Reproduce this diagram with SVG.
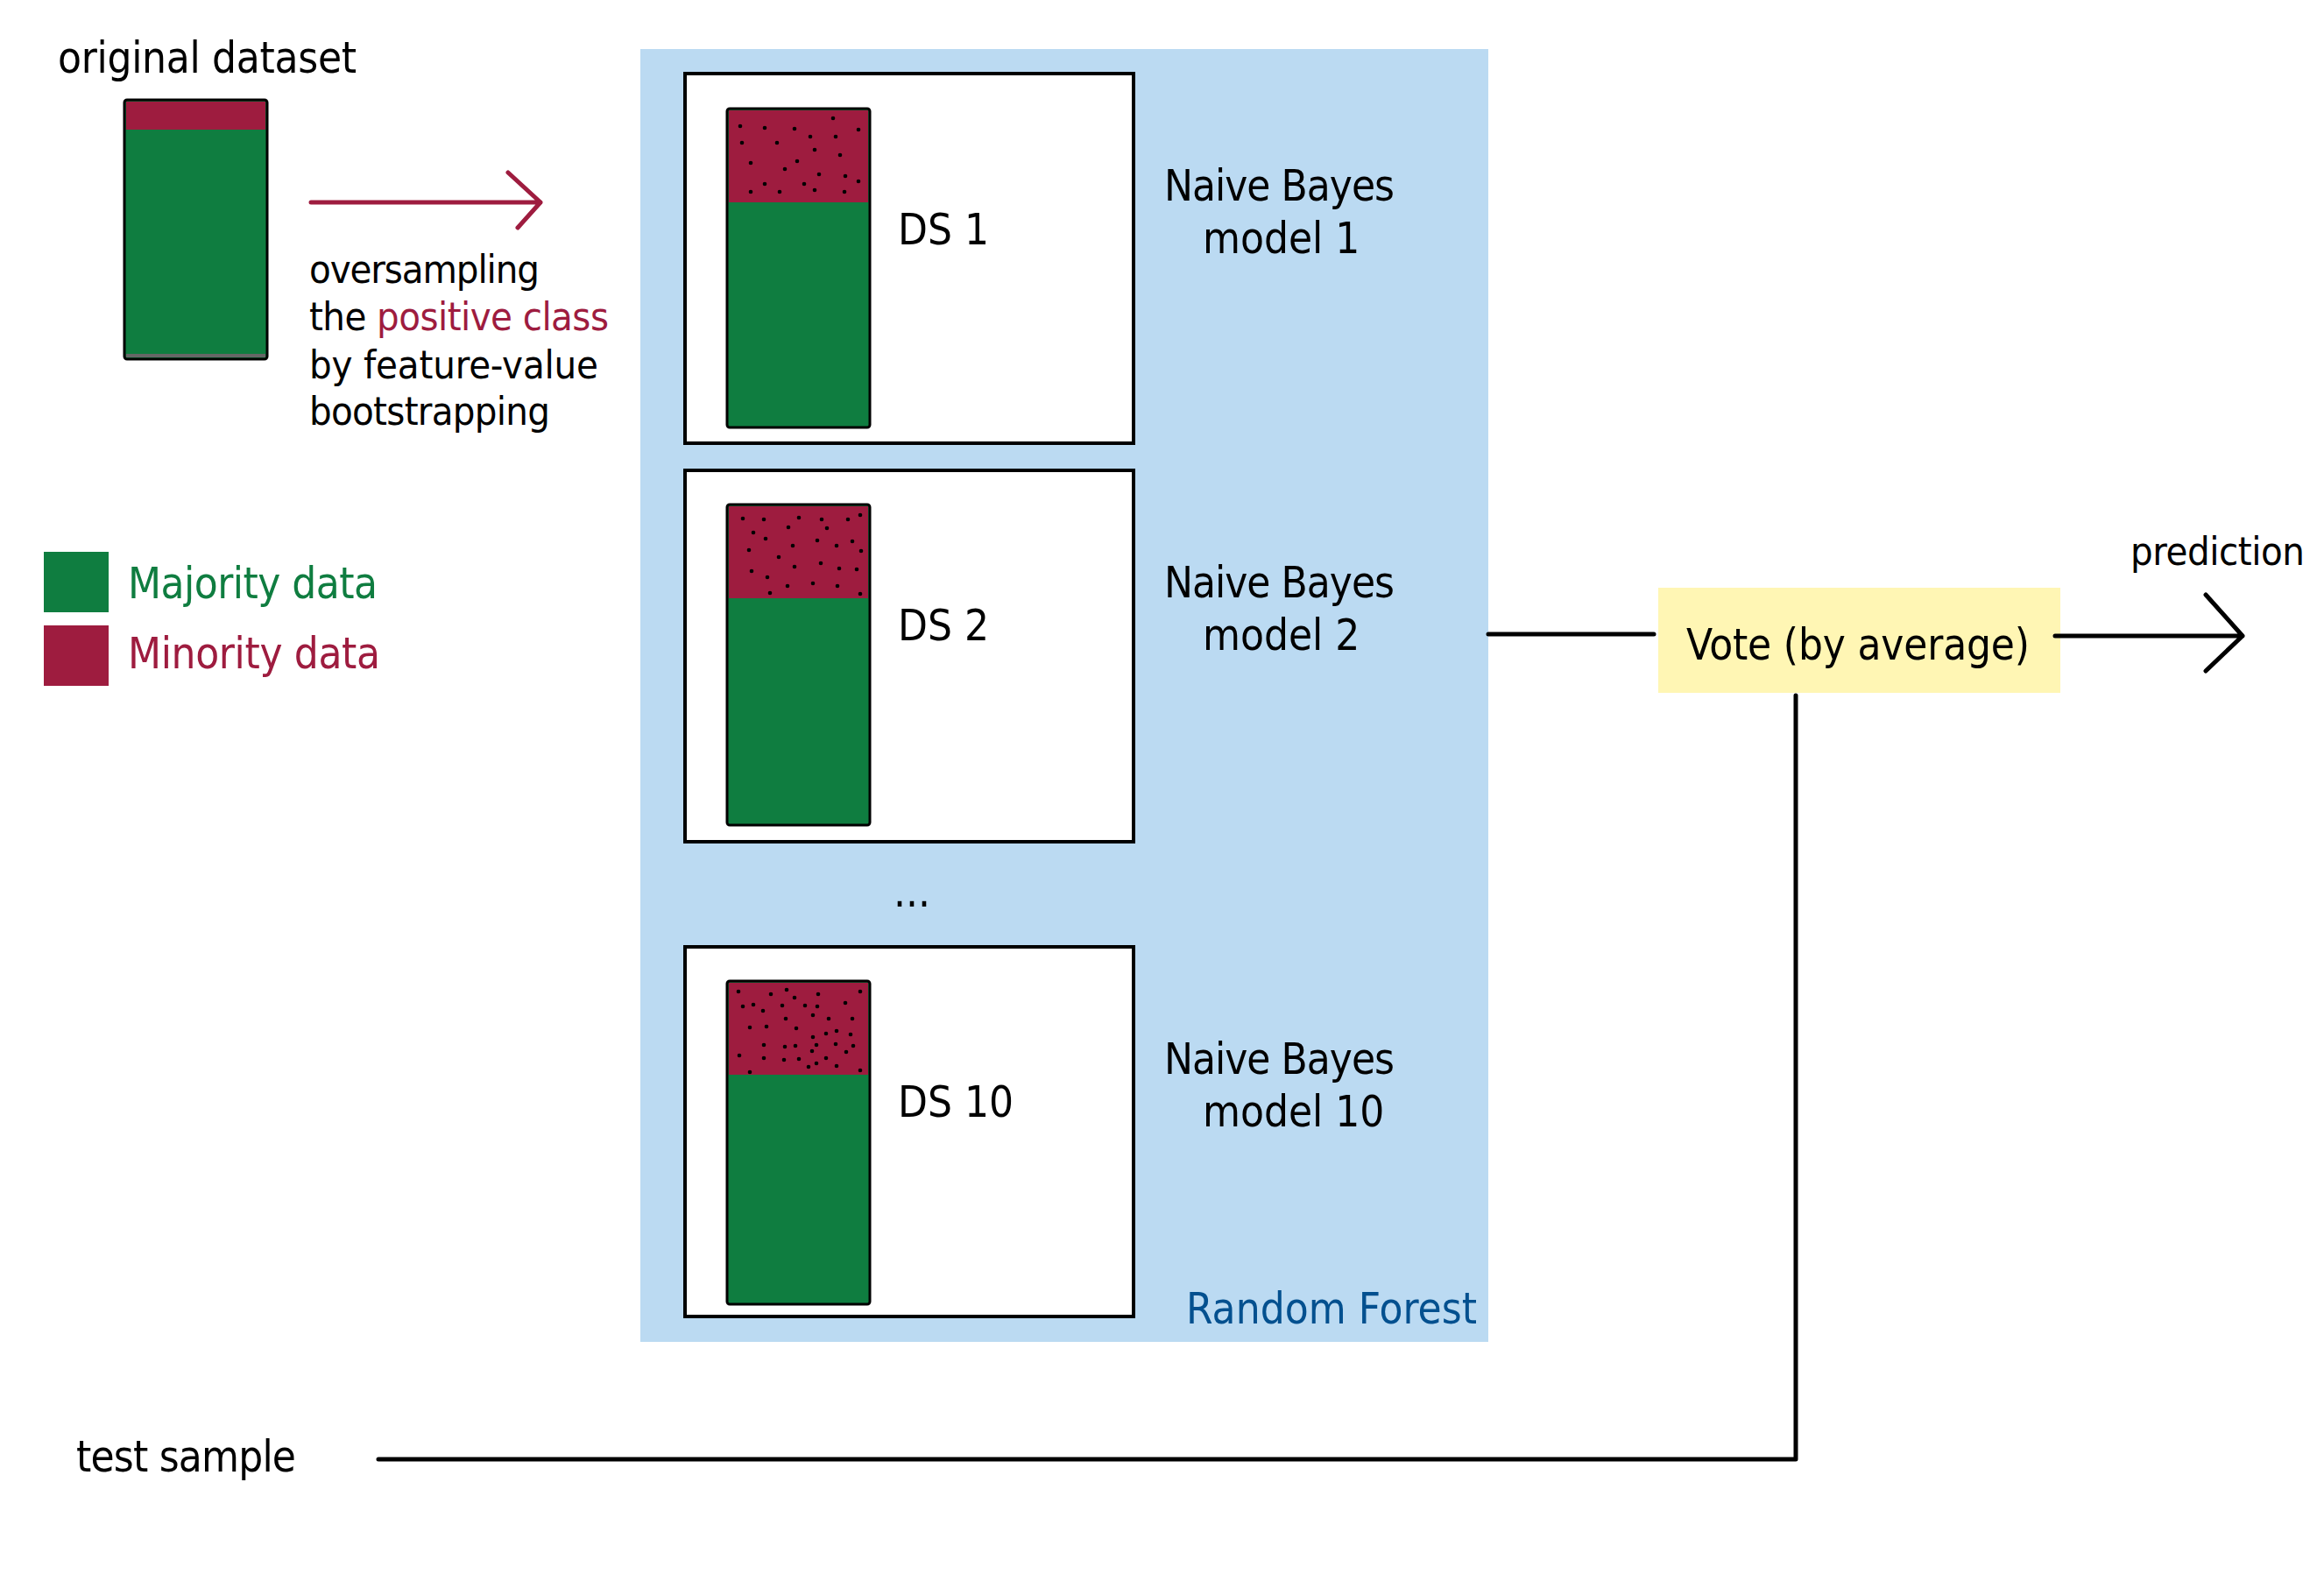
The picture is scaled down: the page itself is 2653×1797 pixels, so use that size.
<svg xmlns="http://www.w3.org/2000/svg" width="2653" height="1797" viewBox="0 0 2653 1797">
<style>
text{font-family:"DejaVu Sans Condensed","DejaVu Sans","Liberation Sans",sans-serif;font-stretch:condensed;fill:#000}
.lg{font-size:49px}
.md{font-size:45px}
.box{fill:#fff;stroke:#000;stroke-width:4}
.col{stroke:#000;stroke-width:3}
.maj{fill:#0F7D40}
.min{fill:#9E1C3F}
.conn{fill:none;stroke:#000;stroke-width:5;stroke-linecap:round;stroke-linejoin:round}
.dots circle{fill:#000}
</style>
<rect width="2653" height="1797" fill="#fff"/>

<g id="original-dataset">
<text class="lg" x="66" y="83" font-size="50" textLength="341">original dataset</text>
<rect x="142" y="114" width="163" height="296" rx="3" class="maj col"/>
<rect x="144" y="116" width="159" height="32" class="min"/>
<rect x="144" y="404" width="159" height="4" fill="#666"/>
</g>

<g id="oversampling-label">
<text class="md" x="353" y="323" textLength="263">oversampling</text>
<text class="md" x="353" y="377" textLength="342">the <tspan fill="#9E1C3F">positive class</tspan></text>
<text class="md" x="353" y="432" textLength="330">by feature-value</text>
<text class="md" x="353" y="485" textLength="275">bootstrapping</text>
</g>

<g id="legend">
<rect x="50" y="630" width="74" height="69" class="maj"/>
<rect x="50" y="714" width="74" height="69" class="min"/>
<text class="lg" x="146" y="683" style="fill:#0F7D40" textLength="285">Majority data</text>
<text class="lg" x="146" y="763" style="fill:#9E1C3F" textLength="288">Minority data</text>
</g>

<g id="random-forest">
<rect x="731" y="56" width="968" height="1476" fill="#BBDAF2"/>
<text class="lg" x="1354" y="1511" style="fill:#03508F" textLength="332">Random Forest</text>
<text class="lg" x="1020" y="1035">...</text>
</g>

<g id="ds1">
<rect x="782" y="84" width="512" height="422" class="box"/>
<rect x="830" y="124" width="163" height="364" rx="3" class="maj col"/>
<rect x="832" y="126" width="159" height="105" class="min"/>
<g class="dots">
<circle cx="951" cy="135" r="2.3"/><circle cx="845" cy="144" r="2.3"/><circle cx="873" cy="146" r="2.3"/><circle cx="907" cy="147" r="2.3"/><circle cx="980" cy="148" r="2.3"/><circle cx="925" cy="156" r="2.3"/><circle cx="954" cy="156" r="2.3"/><circle cx="847" cy="163" r="2.3"/><circle cx="887" cy="163" r="2.3"/><circle cx="930" cy="171" r="2.3"/><circle cx="959" cy="177" r="2.3"/><circle cx="857" cy="186" r="2.3"/><circle cx="910" cy="184" r="2.3"/><circle cx="896" cy="193" r="2.3"/><circle cx="935" cy="199" r="2.3"/><circle cx="965" cy="201" r="2.3"/><circle cx="980" cy="207" r="2.3"/><circle cx="873" cy="210" r="2.3"/><circle cx="918" cy="210" r="2.3"/><circle cx="857" cy="219" r="2.3"/><circle cx="890" cy="219" r="2.3"/><circle cx="930" cy="217" r="2.3"/><circle cx="964" cy="219" r="2.3"/>
</g>
<text class="lg" x="1025" y="279">DS 1</text>
<text class="lg" x="1329" y="229" textLength="263">Naive Bayes</text>
<text class="lg" x="1373" y="289">model 1</text>
</g>

<g id="ds2">
<rect x="782" y="537" width="512" height="424" class="box"/>
<rect x="830" y="576" width="163" height="366" rx="3" class="maj col"/>
<rect x="832" y="578" width="159" height="105" class="min"/>
<g class="dots">
<circle cx="848" cy="592" r="2.3"/><circle cx="872" cy="593" r="2.3"/><circle cx="912" cy="591" r="2.3"/><circle cx="938" cy="593" r="2.3"/><circle cx="968" cy="593" r="2.3"/><circle cx="982" cy="588" r="2.3"/><circle cx="860" cy="608" r="2.3"/><circle cx="900" cy="602" r="2.3"/><circle cx="944" cy="603" r="2.3"/><circle cx="874" cy="615" r="2.3"/><circle cx="933" cy="617" r="2.3"/><circle cx="955" cy="623" r="2.3"/><circle cx="973" cy="618" r="2.3"/><circle cx="855" cy="628" r="2.3"/><circle cx="905" cy="623" r="2.3"/><circle cx="983" cy="629" r="2.3"/><circle cx="889" cy="636" r="2.3"/><circle cx="907" cy="647" r="2.3"/><circle cx="937" cy="643" r="2.3"/><circle cx="958" cy="649" r="2.3"/><circle cx="978" cy="650" r="2.3"/><circle cx="858" cy="652" r="2.3"/><circle cx="876" cy="659" r="2.3"/><circle cx="899" cy="669" r="2.3"/><circle cx="928" cy="666" r="2.3"/><circle cx="956" cy="669" r="2.3"/><circle cx="879" cy="677" r="2.3"/><circle cx="982" cy="678" r="2.3"/>
</g>
<text class="lg" x="1025" y="731">DS 2</text>
<text class="lg" x="1329" y="682" textLength="263">Naive Bayes</text>
<text class="lg" x="1373" y="742">model 2</text>
</g>

<g id="ds10">
<rect x="782" y="1081" width="512" height="422" class="box"/>
<rect x="830" y="1120" width="163" height="369" rx="3" class="maj col"/>
<rect x="832" y="1122" width="159" height="105" class="min"/>
<g class="dots">
<circle cx="843" cy="1132" r="2.3"/><circle cx="880" cy="1135" r="2.3"/><circle cx="898" cy="1130" r="2.3"/><circle cx="907" cy="1139" r="2.3"/><circle cx="934" cy="1135" r="2.3"/><circle cx="982" cy="1132" r="2.3"/><circle cx="848" cy="1149" r="2.3"/><circle cx="860" cy="1147" r="2.3"/><circle cx="871" cy="1154" r="2.3"/><circle cx="893" cy="1148" r="2.3"/><circle cx="919" cy="1148" r="2.3"/><circle cx="933" cy="1149" r="2.3"/><circle cx="965" cy="1145" r="2.3"/><circle cx="897" cy="1163" r="2.3"/><circle cx="928" cy="1159" r="2.3"/><circle cx="946" cy="1163" r="2.3"/><circle cx="973" cy="1163" r="2.3"/><circle cx="856" cy="1173" r="2.3"/><circle cx="875" cy="1172" r="2.3"/><circle cx="909" cy="1174" r="2.3"/><circle cx="943" cy="1180" r="2.3"/><circle cx="955" cy="1177" r="2.3"/><circle cx="971" cy="1181" r="2.3"/><circle cx="928" cy="1184" r="2.3"/><circle cx="872" cy="1193" r="2.3"/><circle cx="896" cy="1195" r="2.3"/><circle cx="908" cy="1194" r="2.3"/><circle cx="932" cy="1193" r="2.3"/><circle cx="954" cy="1192" r="2.3"/><circle cx="974" cy="1194" r="2.3"/><circle cx="927" cy="1200" r="2.3"/><circle cx="966" cy="1201" r="2.3"/><circle cx="844" cy="1205" r="2.3"/><circle cx="872" cy="1208" r="2.3"/><circle cx="895" cy="1210" r="2.3"/><circle cx="912" cy="1209" r="2.3"/><circle cx="943" cy="1208" r="2.3"/><circle cx="932" cy="1214" r="2.3"/><circle cx="923" cy="1218" r="2.3"/><circle cx="955" cy="1217" r="2.3"/><circle cx="856" cy="1224" r="2.3"/><circle cx="982" cy="1222" r="2.3"/>
</g>
<text class="lg" x="1025" y="1275">DS 10</text>
<text class="lg" x="1329" y="1226" textLength="263">Naive Bayes</text>
<text class="lg" x="1373" y="1286">model 10</text>
</g>

<g id="vote">
<rect x="1893" y="671" width="459" height="120" fill="#FFF6B4"/>
<text class="lg" x="1925" y="753" textLength="392">Vote (by average)</text>
</g>

<g id="prediction">
<text class="md" x="2432" y="645" textLength="199">prediction</text>
</g>

<g id="test-sample">
<text class="lg" x="87" y="1680" textLength="251">test sample</text>
</g>

<g id="connectors">
<path d="M355 231 H617 M580 197 L617 231 L591 260" style="fill:none;stroke:#9E1C3F;stroke-width:5;stroke-linecap:round;stroke-linejoin:round"/>
<path class="conn" d="M1699 724 H1888"/>
<path class="conn" d="M2346 726 H2560 M2518 679 L2560 726 L2518 766"/>
<path class="conn" d="M2050 794 V1666 H432"/>
</g>
</svg>
